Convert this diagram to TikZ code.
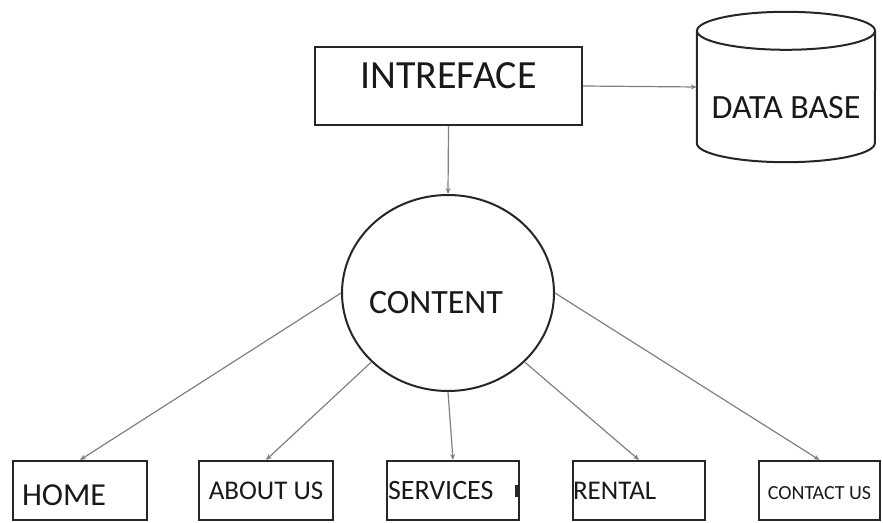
\documentclass[tikz,border=0pt]{standalone}
\usepackage{fontspec}
\setmainfont{Carlito}
\usetikzlibrary{arrows.meta,positioning,shapes,calc}

\begin{document}
\begin{tikzpicture}[
    x=1pt, y=1pt,
    box/.style={rectangle, draw=black!85, line width=2pt, inner ysep=0pt, text=black!90},
    page/.style={box, minimum height=59pt, text height=38pt, text depth=21pt},
    arrow/.style={-{Stealth[length=6pt, width=5pt]}, draw=gray, line width=1.2pt}
]
\useasboundingbox (0,0) rectangle (883,522);
\node[box, minimum width=267pt, text height=41.5pt, text depth=36.5pt, font=\fontsize{40}{48}\selectfont] (interface) at (448.5,436) {INTREFACE};
\node[text height=107pt, text depth=43pt, inner sep=0pt, minimum width=178pt, text=black!90, font=\fontsize{34}{40}\selectfont] (db) at (786,435) {DATA BASE};
\draw[line width=2pt, draw=black!85] ($(db.north)+(0,-19)$) ellipse [x radius=89pt, y radius=19pt];
\draw[line width=2pt, draw=black!85] ($(db.north west)+(0,-19)$) -- ($(db.south west)+(0,19)$)
    arc[start angle=180, end angle=360, x radius=89pt, y radius=19pt] -- ($(db.north east)+(0,-19)$);
\node[ellipse, draw=black!85, line width=2pt, minimum width=212pt, minimum height=196pt, inner sep=0pt] (content) at (448,229) {};
\node[text=black!90, font=\fontsize{34}{40}\selectfont] (contentlabel) at (436,219) {CONTENT};
% pages
\node[page, minimum width=134pt, inner xsep=9pt, text width=116pt, align=left, text height=44pt, text depth=15pt, font=\fontsize{32}{38}\selectfont] (home) at (80,31.5) {HOME};
\node[page, minimum width=134pt, font=\fontsize{27}{32}\selectfont] (about) at (266,31.5) {ABOUT US};
\node[page, minimum width=132pt, inner xsep=1pt, text width=130pt, align=left, font=\fontsize{28}{34}\selectfont] (services) at (453,31.5) {SERVICES};
\node[page, minimum width=132pt, inner xsep=0pt, text width=132pt, align=left, font=\fontsize{27}{32}\selectfont] (rental) at (639,31.5) {RENTAL};
\node[page, minimum width=121pt, font=\fontsize{20}{24}\selectfont] (contact) at (819.5,31.5) {CONTACT US};
\fill[black!85] ($(services.east)+(-5,-6.5)$) rectangle ($(services.east)+(-1,5.5)$);
\draw[arrow] (interface.south) -- (content.north);
\draw[arrow] (interface.east) -- (db.west);
\draw[arrow] (content.west) -- (home.north);
\draw[arrow] (content.222) -- (about.north);
\draw[arrow] (content.south) -- (services.north);
\draw[arrow] (content.318) -- (rental.north);
\draw[arrow] (content.east) -- (contact.north);
\end{tikzpicture}
\end{document}
